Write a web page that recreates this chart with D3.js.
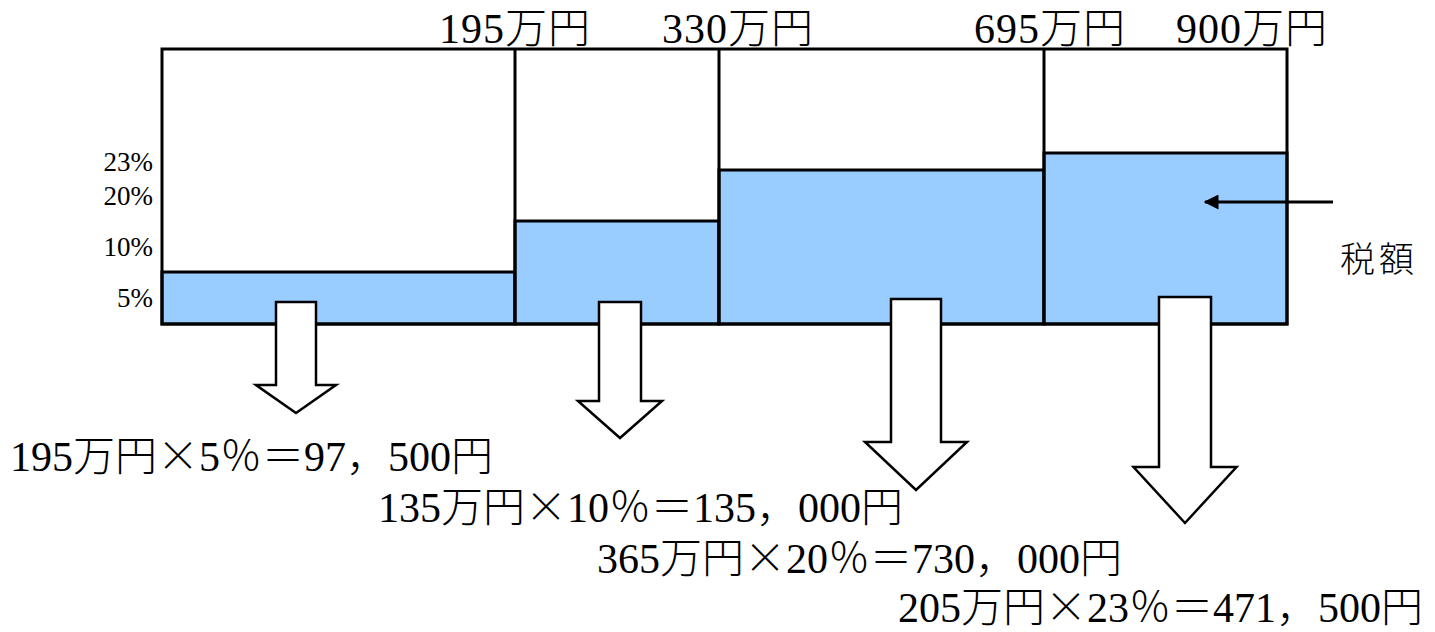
<!DOCTYPE html>
<html>
<head>
<meta charset="utf-8">
<title>所得税の計算</title>
<script src="https://cdn.jsdelivr.net/npm/d3@7"></script>
<style>
  body { margin: 0; background: #fff; }
  text { font-family: "Liberation Serif", "Noto Sans CJK JP", serif; font-weight: 300; fill: #000; }
  .wide { font-family: "Noto Sans CJK JP", sans-serif; font-weight: 300; }
</style>
</head>
<body>
<div id="container"></div>
<script>
// bracket upper limits (万円) and tax rates (%)
const brackets = [195, 330, 695, 900];
const rates = [5, 10, 20, 23];
const bracketLabels = ["195万円", "330万円", "695万円", "900万円"];
const rateLabels = ["5%", "10%", "20%", "23%"];
const formulaLabels = [
  "195万円×5％＝97，500円",
  "135万円×10％＝135，000円",
  "365万円×20％＝730，000円",
  "205万円×23％＝471，500円"
];
const taxLabel = "税額";

const W = 1435, H = 632;
const blue = "#99ccff";

// the drawing is schematic, so both scales are piecewise
const xScale = d3.scaleLinear()
  .domain([0, ...brackets])
  .range([162, 515, 719, 1044, 1287]);

const yScale = d3.scaleLinear()
  .domain([0, ...rates])
  .range([324, 272, 221, 170, 153]);

const frameTop = 49;

const svg = d3.select("#container").append("svg")
  .attr("width", W)
  .attr("height", H);

const segs = brackets.map((b, i) => ({
  x0: i === 0 ? 0 : brackets[i - 1],
  x1: b,
  rate: rates[i],
  prevRate: i === 0 ? 0 : rates[i - 1]
}));

// blue tax area per bracket
svg.selectAll("rect.bar")
  .data(segs)
  .enter()
  .append("rect")
  .attr("class", "bar")
  .attr("x", d => xScale(d.x0))
  .attr("y", d => yScale(d.rate))
  .attr("width", d => xScale(d.x1) - xScale(d.x0))
  .attr("height", d => yScale(0) - yScale(d.rate))
  .attr("fill", blue)
  .attr("stroke", "#000")
  .attr("stroke-width", 3);

// outer frame
svg.append("rect")
  .attr("x", xScale(0))
  .attr("y", frameTop)
  .attr("width", xScale(900) - xScale(0))
  .attr("height", yScale(0) - frameTop)
  .attr("fill", "none")
  .attr("stroke", "#000")
  .attr("stroke-width", 3);

// bracket dividers
svg.selectAll("line.div")
  .data(brackets.slice(0, -1))
  .enter()
  .append("line")
  .attr("x1", d => xScale(d))
  .attr("x2", d => xScale(d))
  .attr("y1", frameTop)
  .attr("y2", yScale(0))
  .attr("stroke", "#000")
  .attr("stroke-width", 3);

// bracket labels on top
const topDx = [0, 19, 6, -35];
svg.selectAll("text.bl")
  .data(bracketLabels)
  .enter()
  .append("text")
  .attr("x", (d, i) => xScale(brackets[i]) + topDx[i])
  .attr("y", 43)
  .attr("text-anchor", "middle")
  .attr("font-size", 42)
  .attr("letter-spacing", 1)
  .text(d => d);

// rate labels, each placed mid-way in its band
svg.selectAll("text.rl")
  .data(segs)
  .enter()
  .append("text")
  .attr("x", 153)
  .attr("y", d => (yScale(d.rate) + yScale(d.prevRate)) / 2 + 9)
  .attr("text-anchor", "end")
  .attr("font-size", 27)
  .text((d, i) => rateLabels[i]);

// block arrows down to each formula
const arrows = [
  { cx: 296, y0: 302, shaft: 40, head: 80, yh: 385, tip: 413 },
  { cx: 620, y0: 302, shaft: 42, head: 84, yh: 401, tip: 438 },
  { cx: 916, y0: 299, shaft: 50, head: 102, yh: 442, tip: 490 },
  { cx: 1185, y0: 297, shaft: 52, head: 103, yh: 467, tip: 523 }
];
svg.selectAll("path.arrow")
  .data(arrows)
  .enter()
  .append("path")
  .attr("d", a => {
    const s = a.shaft / 2, h = a.head / 2;
    return `M${a.cx - s},${a.y0}H${a.cx + s}V${a.yh}H${a.cx + h}L${a.cx},${a.tip}L${a.cx - h},${a.yh}H${a.cx - s}Z`;
  })
  .attr("fill", "#fff")
  .attr("stroke", "#000")
  .attr("stroke-width", 2.5)
  .attr("stroke-linejoin", "miter");

// formula lines
const fx = [10, 378, 597, 898];
const fy = [471, 522, 573, 622];
formulaLabels.forEach((s, i) => {
  const t = svg.append("text")
    .attr("x", fx[i])
    .attr("y", fy[i])
    .attr("font-size", 42);
  s.split("×").forEach((part, j) => {
    if (j > 0) t.append("tspan").attr("class", "wide").text("×");
    t.append("tspan").text(part);
  });
});

// 税額 pointer
svg.append("defs").append("marker")
  .attr("id", "head")
  .attr("viewBox", "0 0 10 10")
  .attr("refX", 9).attr("refY", 5)
  .attr("markerWidth", 5).attr("markerHeight", 5)
  .attr("orient", "auto")
  .append("path")
  .attr("d", "M0,0L10,5L0,10Z")
  .attr("fill", "#000");

svg.append("line")
  .attr("x1", 1333).attr("y1", 202)
  .attr("x2", 1205).attr("y2", 202)
  .attr("stroke", "#000")
  .attr("stroke-width", 3)
  .attr("marker-end", "url(#head)");

svg.append("text")
  .attr("x", 1340)
  .attr("y", 272)
  .attr("font-size", 35)
  .attr("letter-spacing", 4)
  .text(taxLabel);
</script>
</body>
</html>
